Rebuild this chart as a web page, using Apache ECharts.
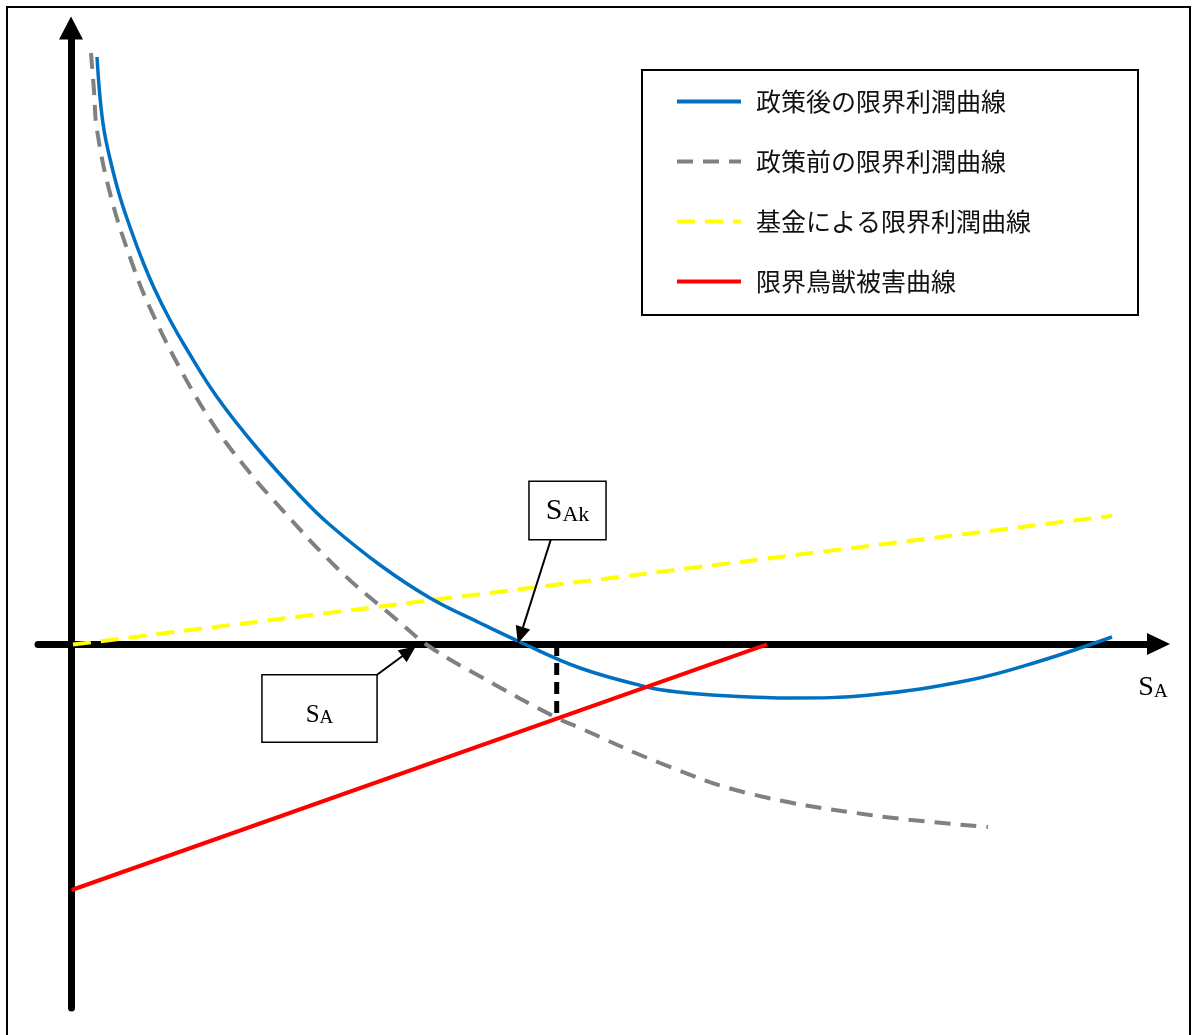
<!DOCTYPE html>
<html>
<head>
<meta charset="utf-8">
<script src="https://cdn.jsdelivr.net/npm/echarts@6/dist/echarts.min.js"></script>
<style>
html,body{margin:0;padding:0;background:#fff;}
#chart{width:1192px;height:1035px;}
</style>
</head>
<body>
<div id="chart"></div>
<script>
// ---- data (x = S_A, y = marginal value) ----
const seriesNames = ['政策後の限界利潤曲線', '政策前の限界利潤曲線', '基金による限界利潤曲線', '限界鳥獣被害曲線'];

const afterPolicy = [
  [2.6, 58.7], [2.9, 54.7], [3.3, 51.4], [4.0, 48.1], [4.9, 44.7], [6.0, 41.4],
  [7.2, 38.2], [8.4, 35.4], [9.9, 32.4], [11.5, 29.6], [14.6, 24.7], [18.6, 19.6],
  [23.1, 14.6], [25.9, 11.9], [30.9, 7.9], [35.9, 4.6], [40.9, 2.1], [44.9, 0.2],
  [50.9, -2.4], [57.6, -4.3], [60.7, -4.8], [65.9, -5.2], [71.9, -5.4], [79.9, -5.1],
  [89.9, -3.6], [96.6, -1.8], [104.1, 0.7]
];
const beforePolicy = [
  [2.0, 59.1], [2.3, 55.3], [2.6, 51.4], [4.0, 44.7], [6.1, 38.1], [7.9, 33.6],
  [11.2, 27.0], [14.6, 21.4], [17.9, 17.1], [19.6, 15.1], [26.6, 7.6],
  [32.6, 2.4], [35.9, -0.3], [41.2, -3.4], [48.4, -7.3], [50.9, -8.4],
  [58.9, -11.9], [67.6, -14.9], [79.9, -17.1], [91.7, -18.3]
];
const fundLine = [[0.2, -0.06], [104.1, 12.82]];
const damageLine = [[0.07, -24.6], [69.6, -0.03]];
const equilibriumDrop = [[48.57, 0], [48.57, -7.45]];

// annotation anchors (data coordinates)
const labelSAk = [49.65, 13.35];
const labelSA = [24.85, -6.45];
const labelAxis = [108.2, -4.05];
const arrowSAk = [[48.0, 10.5], [44.94, 0.86]];
const arrowSA = [[30.47, -3.17], [33.8, -0.72]];

const serif = 'Liberation Serif';
function subRich(big, small, hBig, hSmall) {
  return {
    s: { fontFamily: serif, fontSize: big, lineHeight: hBig, verticalAlign: 'bottom', color: '#000', textBorderWidth: 0 },
    sub: { fontFamily: serif, fontSize: small, lineHeight: hSmall, verticalAlign: 'bottom', color: '#000', textBorderWidth: 0 }
  };
}
function boxLabel(fmt, pad, rich, boxed) {
  const l = { show: true, position: 'inside', formatter: fmt, color: '#000',
    textBorderWidth: 0, textShadowBlur: 0, padding: pad, rich: rich };
  if (boxed) { l.backgroundColor = '#fff'; l.borderColor = '#000'; l.borderWidth = 1.5; }
  return l;
}

const chart = echarts.init(document.getElementById('chart'));
chart.setOption({
  backgroundColor: '#fff',
  animation: false,
  graphic: [{
    type: 'rect', silent: true, z: -10,
    shape: { x: 7, y: 7, width: 1183, height: 1100 },
    style: { fill: 'none', stroke: '#000', lineWidth: 2 }
  }],
  grid: { left: 38, right: 33.5, top: 28, bottom: 27, containLabel: false },
  xAxis: {
    type: 'value', min: -3.3, max: 108.75,
    axisLine: { show: true, onZero: true, symbol: ['none', 'triangle'], symbolSize: [22, 23],
      lineStyle: { color: '#000', width: 7 } },
    axisTick: { show: false }, axisLabel: { show: false }, splitLine: { show: false }
  },
  yAxis: {
    type: 'value', min: -36.4, max: 61.6,
    axisLine: { show: true, onZero: true, symbol: ['none', 'triangle'], symbolSize: [24, 23],
      lineStyle: { color: '#000', width: 7 } },
    axisTick: { show: false }, axisLabel: { show: false }, splitLine: { show: false }
  },
  legend: {
    data: seriesNames,
    orient: 'vertical',
    left: 642, top: 70,
    padding: [19, 107, 21, 33],
    itemGap: 35,
    itemWidth: 64, itemHeight: 14,
    borderColor: '#000', borderWidth: 2, backgroundColor: '#fff',
    lineStyle: { width: 4 },
    itemStyle: { opacity: 0 },
    selectedMode: false,
    textStyle: { fontFamily: 'Noto Sans CJK JP', fontSize: 25, lineHeight: 25, color: '#111', padding: [0, 0, 0, 10] }
  },
  series: [
    {
      name: seriesNames[1], type: 'line', data: beforePolicy, smooth: 0.4,
      symbol: 'none', lineStyle: { color: '#808080', width: 4, type: [16, 10] }, itemStyle: { color: '#808080' }
    },
    {
      name: seriesNames[2], type: 'line', data: fundLine,
      symbol: 'none', lineStyle: { color: '#FFFF00', width: 4, type: [18, 10] }, itemStyle: { color: '#FFFF00' }
    },
    {
      name: seriesNames[0], type: 'line', data: afterPolicy, smooth: 0.4,
      symbol: 'none', lineStyle: { color: '#0070C0', width: 3.5 }, itemStyle: { color: '#0070C0' }
    },
    {
      name: seriesNames[3], type: 'line', data: damageLine,
      symbol: 'none', lineStyle: { color: '#FF0000', width: 4 }, itemStyle: { color: '#FF0000' }
    },
    {
      name: 'drop', type: 'line', data: equilibriumDrop, z: 1,
      symbol: 'none', lineStyle: { color: '#000', width: 5, type: [12, 7] }
    },
    {
      name: 'annotations', type: 'scatter', symbolSize: 0, z: 5,
      itemStyle: { color: '#000', opacity: 1 },
      data: [
        { value: labelSAk, label: boxLabel('{s|S}{sub|Ak}', [4, 16, 13, 16], subRich(30, 22, 40, 22), true) },
        { value: labelSA, label: boxLabel('{s|S}{sub|A}', [17, 43, 14, 43], subRich(25, 19, 35, 19), true) },
        { value: labelAxis, label: boxLabel('{s|S}{sub|A}', 0, subRich(28, 19, 35, 19), false) }
      ],
      markLine: {
        silent: true, animation: false,
        symbol: ['none', 'triangle'], symbolSize: [15, 17],
        lineStyle: { color: '#000', width: 2, type: 'solid', opacity: 1 },
        label: { show: false },
        emphasis: { disabled: true },
        data: [
          [{ coord: arrowSAk[0] }, { coord: arrowSAk[1] }],
          [{ coord: arrowSA[0] }, { coord: arrowSA[1] }]
        ]
      }
    }
  ]
});
</script>
</body>
</html>
